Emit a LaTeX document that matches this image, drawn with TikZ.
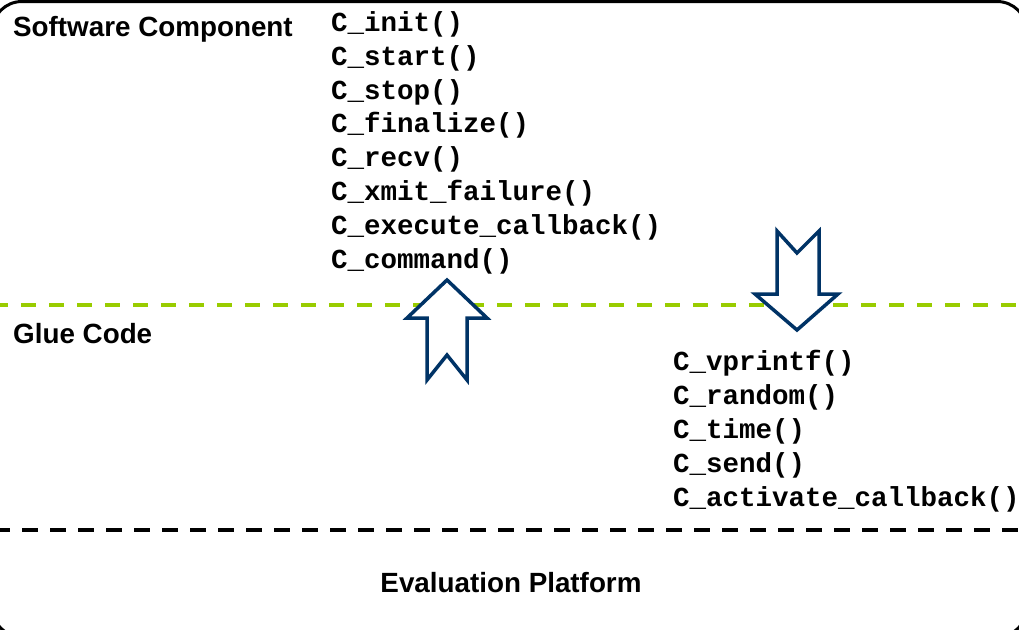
\documentclass[tikz,border=0pt]{standalone}
\usepackage{fontspec}
\setmainfont{Liberation Sans}
\newfontfamily\codefont{Liberation Mono}
\definecolor{navy}{HTML}{003366}
\definecolor{leaf}{HTML}{99CC00}
\tikzset{
  layerlabel/.style={font=\fontsize{27.8}{32}\selectfont\bfseries, inner sep=0pt, anchor=base west},
  fn/.style={font=\codefont\fontsize{27.5}{32}\selectfont\bfseries, inner sep=0pt, anchor=base west},
  blockarrow/.style={draw=navy, line width=3.5pt, fill=white, line join=miter},
  frame/.style={draw=black, line width=3pt, rounded corners=30pt},
}
\begin{document}
\begin{tikzpicture}[x=1pt,y=-1pt]
  \useasboundingbox (0,0) rectangle (1019,629);
  % outer frame
  \draw[frame] (-8,1.5) rectangle (1027,637);
  % layer separators
  \draw[leaf, line width=4pt, dash pattern=on 15pt off 13pt, dash phase=7pt] (0,305) -- (1019,305);
  \draw[black, line width=4pt, dash pattern=on 16pt off 12pt, dash phase=6pt] (0,529.5) -- (1019,529.5);
  % call directions
  \draw[blockarrow] (447,280) -- (487,318) -- (467,318) -- (467,380) -- (447,355) -- (427,380) -- (427,318) -- (407,318) -- cycle;
  \draw[blockarrow] (777,231) -- (797,253) -- (819,231) -- (819,294) -- (838,294) -- (797,330) -- (755,294) -- (777,294) -- cycle;
  % layer names
  \node[layerlabel] (sw) at (13,36) {Software Component};
  \node[layerlabel] (glue) at (13,343) {Glue Code};
  \node[layerlabel, anchor=base] (eval) at (511,592) {Evaluation Platform};
  % component interface
  \node[fn] (f1) at (331,31.5) {C\_init()};
  \node[fn] (f2) at (331,65.3) {C\_start()};
  \node[fn] (f3) at (331,99.1) {C\_stop()};
  \node[fn] (f4) at (331,132.9) {C\_finalize()};
  \node[fn] (f5) at (331,166.7) {C\_recv()};
  \node[fn] (f6) at (331,200.5) {C\_xmit\_failure()};
  \node[fn] (f7) at (331,234.3) {C\_execute\_callback()};
  \node[fn] (f8) at (331,268.1) {C\_command()};
  % platform services
  \node[fn] (g1) at (673,370) {C\_vprintf()};
  \node[fn] (g2) at (673,404) {C\_random()};
  \node[fn] (g3) at (673,438) {C\_time()};
  \node[fn] (g4) at (673,472) {C\_send()};
  \node[fn] (g5) at (673,506) {C\_activate\_callback()};
\end{tikzpicture}
\end{document}
